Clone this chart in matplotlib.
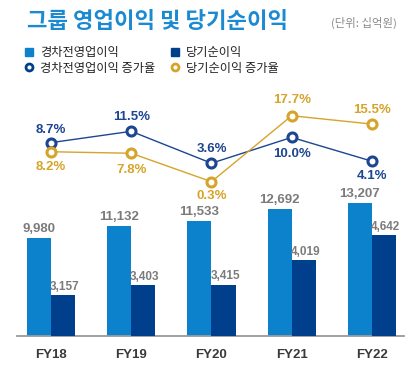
import matplotlib
matplotlib.use("Agg")
import matplotlib.pyplot as plt
from matplotlib.lines import Line2D
import numpy as np

categories = ["FY18", "FY19", "FY20", "FY21", "FY22"]
op_income = [9980, 11132, 11533, 12692, 13207]
net_income = [3157, 3403, 3415, 4019, 4642]
op_growth = [8.7, 11.5, 3.6, 10.0, 4.1]
net_growth = [8.2, 7.8, 0.3, 17.7, 15.5]
op_growth_labels = ["8.7%", "11.5%", "3.6%", "10.0%", "4.1%"]
net_growth_labels = ["8.2%", "7.8%", "0.3%", "17.7%", "15.5%"]

C_LIGHT = "#0b82cb"
C_DARK = "#003f8c"
C_BLUE_LINE = "#1c4592"
C_GOLD = "#d6a42a"
C_GRAY = "#7b7b7b"

W, H = 415, 368
fig = plt.figure(figsize=(W / 100, H / 100), dpi=100)
fig.patch.set_facecolor("white")

left, right, base, top = 17, 404, 336, 100
pos = [left / W, (H - base) / H, (right - left) / W, (base - top) / H]

x = np.arange(len(categories))
xl = (-0.424, 4.40)
bw = 0.30

ax = fig.add_axes(pos)
ax2 = fig.add_axes(pos, sharex=ax)
axl1 = fig.add_axes(pos, sharex=ax)
axl2 = fig.add_axes(pos, sharex=ax)
for a in (ax, ax2, axl1, axl2):
    a.set_xlim(*xl)
    a.patch.set_alpha(0)
    for s in a.spines.values():
        s.set_visible(False)
    a.tick_params(left=False, labelleft=False, bottom=False, labelbottom=False)

ax.set_ylim(949, 22700)
ax2.set_ylim(2141, 7983)
axl1.set_ylim(-39.2, 19.26)
axl2.set_ylim(-40.4, 21.85)

lab_font = dict(family=["Liberation Sans", "DejaVu Sans"], fontweight="bold")

ax.bar(x - bw / 2, op_income, bw, color=C_LIGHT, zorder=2)
ax2.bar(x + bw / 2, net_income, bw, color=C_DARK, zorder=2)
for xi, v in zip(x, op_income):
    ax.annotate(f"{v:,}", (xi - bw / 2, v), xytext=(0, 2), textcoords="offset points",
                ha="center", va="bottom", color=C_GRAY, fontsize=9.5, **lab_font)
for xi, v in zip(x, net_income):
    ax2.annotate(f"{v:,}", (xi + bw / 2 + 0.02, v), xytext=(0, 1.5), textcoords="offset points",
                 ha="center", va="bottom", color=C_GRAY, fontsize=8.5, **lab_font)

ax.spines["bottom"].set_visible(True)
ax.spines["bottom"].set_color("#9a9a9a")
ax.spines["bottom"].set_linewidth(1.3)
ax.set_xticks(x)
ax.set_xticklabels(categories)
ax.tick_params(labelbottom=True, pad=6)
for t in ax.get_xticklabels():
    t.set_fontfamily(["Liberation Sans", "DejaVu Sans"])
    t.set_fontweight("bold")
    t.set_fontsize(9.5)
    t.set_color("#3a3a3a")

axl1.plot(x, op_growth, color=C_BLUE_LINE, lw=1.0, marker="o", ms=6.5, mew=2.2,
          mfc="white", mec=C_BLUE_LINE, zorder=3, clip_on=False)
axl2.plot(x, net_growth, color=C_GOLD, lw=1.0, marker="o", ms=6.5, mew=2.2,
          mfc="white", mec=C_GOLD, zorder=4, clip_on=False)

op_off = [9, 10, 10, -12, -11]
net_off = [-11, -12, -10, 11, 10]
for xi, v, s, o in zip(x, op_growth, op_growth_labels, op_off):
    axl1.annotate(s, (xi, v), xytext=(0, o), textcoords="offset points", ha="center",
                  va="center", color=C_BLUE_LINE, fontsize=9.5, **lab_font)
for xi, v, s, o in zip(x, net_growth, net_growth_labels, net_off):
    axl2.annotate(s, (xi, v), xytext=(0, o), textcoords="offset points", ha="center",
                  va="center", color=C_GOLD, fontsize=9.5, **lab_font)

kr = ["Noto Sans CJK KR", "DejaVu Sans"]
fig.text(27 / W, 1 - 22 / H, "그룹 영업이익 및 당기순이익", family=kr, fontweight="bold",
         fontsize=16, color="#1b8ad0", va="center", ha="left")
fig.text(397 / W, 1 - 23 / H, "(단위: 십억원)", family=kr, fontsize=8.2,
         color="#8a8a8a", va="center", ha="right")

handles = [
    Line2D([], [], ls="none", marker="s", ms=6, color=C_LIGHT),
    Line2D([], [], ls="none", marker="o", ms=5, mfc="white", mec=C_DARK, mew=2),
    Line2D([], [], ls="none", marker="s", ms=6, color=C_DARK),
    Line2D([], [], ls="none", marker="o", ms=5, mfc="white", mec=C_GOLD, mew=2),
]
labels = ["경차전영업이익", "경차전영업이익 증가율", "당기순이익", "당기순이익 증가율"]
leg = fig.legend(handles, labels, ncol=2, loc="upper left",
                 bbox_to_anchor=(24 / W, 1 - 46 / H), frameon=False,
                 prop={"family": kr, "size": 8.8}, handlelength=0.8, handletextpad=0.5,
                 columnspacing=1.2, labelspacing=0.22, borderpad=0, borderaxespad=0)
for t in leg.get_texts():
    t.set_color("#222222")

fig.savefig("out.png", dpi=100, facecolor="white")
